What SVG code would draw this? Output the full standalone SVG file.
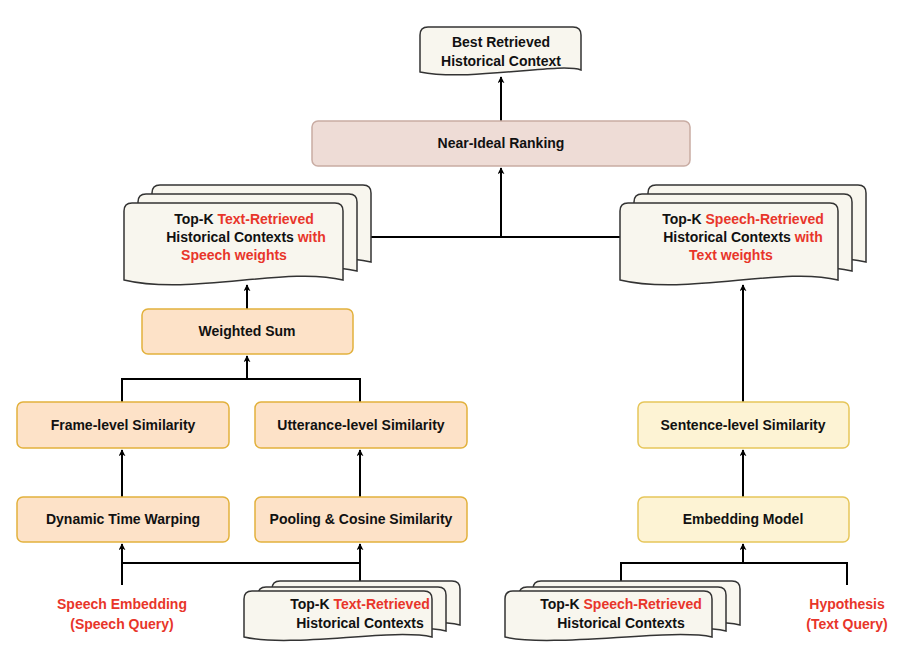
<svg xmlns="http://www.w3.org/2000/svg" width="902" height="656" viewBox="0 0 902 656">
<defs>
<marker id="ah" viewBox="0 0 10 10" refX="9" refY="5" markerWidth="7" markerHeight="7" orient="auto" markerUnits="userSpaceOnUse"><path d="M0,0 L10,5 L0,10 L3,5 Z" fill="#000"/></marker>
<style>
text{font-family:"Liberation Sans",Arial,sans-serif;font-weight:bold;font-size:14px;text-anchor:middle;fill:#111}
.r{fill:#e8352a}
.doc{fill:#f8f6ee;stroke:#333;stroke-width:1.5}
.or{fill:#fde2c8;stroke:#e2b13c;stroke-width:1.5}
.ye{fill:#fdf3d4;stroke:#e6c65a;stroke-width:1.5}
.c{fill:none;stroke:#000;stroke-width:2}
</style>
</defs>
<rect width="902" height="656" fill="#fff"/>
<g id="connectors">
<path class="c" d="M501,121 V77" marker-end="url(#ah)"/>
<path class="c" d="M370,237 H620 M501,237 V168" marker-end="url(#ah)"/>
<path class="c" d="M247,309 V285" marker-end="url(#ah)" stroke-width="2.5"/>
<path class="c" d="M122,402 V379 H360 V402 M247,379 V356" marker-end="url(#ah)"/>
<path class="c" d="M122,497 V450" marker-end="url(#ah)"/>
<path class="c" d="M360,497 V450" marker-end="url(#ah)"/>
<path class="c" d="M122,585 V544" marker-end="url(#ah)"/>
<path class="c" d="M122,563 H360 M360,581 V544" marker-end="url(#ah)"/>
<path class="c" d="M743,402 V285" marker-end="url(#ah)"/>
<path class="c" d="M743,497 V450" marker-end="url(#ah)"/>
<path class="c" d="M621,583 V563 H847 V585 M743,563 V544" marker-end="url(#ah)"/>
</g>
<g id="best">
<path class="doc" d="M420,35 Q420,27 428,27 H573 Q581,27 581,35 V70 C560,62 470,82 420,72 Z"/>
<text x="501" y="47">Best Retrieved</text><text x="501" y="66">Historical Context</text>
</g>
<g id="ranking">
<rect x="312" y="121" width="378" height="45" rx="6" fill="#eedcd6" stroke="#c9aca3" stroke-width="1.5"/>
<text x="501" y="148">Near-Ideal Ranking</text>
</g>
<g id="left-docs">
<path class="doc" d="M152,193 Q152,185 160,185 H363 Q371,185 371,193 V262 C316,248 218,278 152,262 Z"/>
<path class="doc" d="M138,202 Q138,194 146,194 H349 Q357,194 357,202 V271 C302,257 204,287 138,271 Z"/>
<path class="doc" d="M124,211 Q124,203 132,203 H335 Q343,203 343,211 V280 C288,266 190,296 124,280 Z"/>
<text x="244" y="224">Top-K <tspan class="r">Text-Retrieved</tspan></text>
<text x="246" y="242">Historical Contexts <tspan class="r">with</tspan></text>
<text x="234" y="260" class="r">Speech weights</text>
</g>
<g id="right-docs">
<path class="doc" d="M648,193 Q648,185 656,185 H858 Q866,185 866,193 V262 C812,248 714,278 648,262 Z"/>
<path class="doc" d="M634,202 Q634,194 642,194 H844 Q852,194 852,202 V271 C798,257 700,287 634,271 Z"/>
<path class="doc" d="M620,211 Q620,203 628,203 H830 Q838,203 838,211 V280 C784,266 686,296 620,280 Z"/>
<text x="743" y="224">Top-K <tspan class="r">Speech-Retrieved</tspan></text>
<text x="743" y="242">Historical Contexts <tspan class="r">with</tspan></text>
<text x="731" y="260" class="r">Text weights</text>
</g>
<g id="weighted"><rect class="or" x="142" y="309" width="211" height="45" rx="6"/><text x="247" y="336">Weighted Sum</text></g>
<g id="frame"><rect class="or" x="17" y="402" width="212" height="46" rx="6"/><text x="123" y="430">Frame-level Similarity</text></g>
<g id="utter"><rect class="or" x="255" y="402" width="212" height="46" rx="6"/><text x="361" y="430">Utterance-level Similarity</text></g>
<g id="dtw"><rect class="or" x="17" y="497" width="212" height="45" rx="6"/><text x="123" y="524">Dynamic Time Warping</text></g>
<g id="pool"><rect class="or" x="255" y="497" width="212" height="45" rx="6"/><text x="361" y="524">Pooling &amp; Cosine Similarity</text></g>
<g id="sentence"><rect class="ye" x="638" y="402" width="211" height="46" rx="6"/><text x="743" y="430">Sentence-level Similarity</text></g>
<g id="embed"><rect class="ye" x="638" y="497" width="211" height="45" rx="6"/><text x="743" y="524">Embedding Model</text></g>
<g id="speech-emb"><text x="122" y="609" class="r">Speech Embedding</text><text x="122" y="629" class="r">(Speech Query)</text></g>
<g id="hyp"><text x="847" y="609" class="r">Hypothesis</text><text x="847" y="629" class="r">(Text Query)</text></g>
<g id="bl-docs">
<path class="doc" d="M272,589 Q272,581 280,581 H452 Q460,581 460,589 V625 C420,616 320,636 272,625 Z"/>
<path class="doc" d="M258,595 Q258,587 266,587 H438 Q446,587 446,595 V631 C406,622 306,642 258,631 Z"/>
<path class="doc" d="M244,599 Q244,591 252,591 H424 Q432,591 432,599 V637 C392,628 292,648 244,637 Z"/>
<text x="360" y="609">Top-K <tspan class="r">Text-Retrieved</tspan></text>
<text x="360" y="628">Historical Contexts</text>
</g>
<g id="br-docs">
<path class="doc" d="M533,589 Q533,581 541,581 H732 Q740,581 740,589 V625 C700,616 580,636 533,625 Z"/>
<path class="doc" d="M519,595 Q519,587 527,587 H718 Q726,587 726,595 V631 C686,622 566,642 519,631 Z"/>
<path class="doc" d="M505,599 Q505,591 513,591 H704 Q712,591 712,599 V637 C672,628 552,648 505,637 Z"/>
<text x="621" y="609">Top-K <tspan class="r">Speech-Retrieved</tspan></text>
<text x="621" y="628">Historical Contexts</text>
</g>
</svg>
